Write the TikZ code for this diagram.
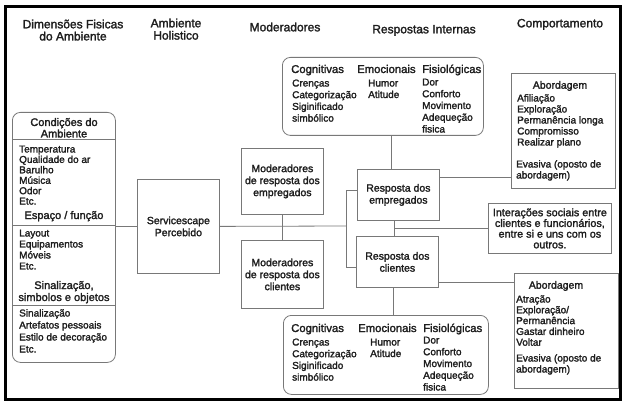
\documentclass[tikz,border=0pt]{standalone}
\usepackage{fontspec}
\setmainfont{Liberation Sans}[FakeBold=2]
\definecolor{ln}{RGB}{120,120,120}
\definecolor{tx}{RGB}{30,30,30}
\newcommand\TL[3]{{\fontsize{#1}{#2}\selectfont\begin{tabular}[t]{@{}l@{}}#3\end{tabular}}}
\newcommand\TC[3]{{\fontsize{#1}{#2}\selectfont\begin{tabular}[t]{@{}c@{}}#3\end{tabular}}}
\tikzset{
  bx/.style={draw=ln, line width=0.8pt, anchor=north west, inner sep=0pt, text=tx, align=center},
  rbx/.style={bx, rounded corners=8pt},
  btxt/.style={font=\fontsize{10.5}{12}\selectfont},
  tl/.style={anchor=base west, inner sep=0pt, text=tx},
  tc/.style={anchor=base, inner sep=0pt, text=tx},
  cn/.style={draw=ln, line width=0.8pt},
}
\begin{document}
\begin{tikzpicture}[x=1pt,y=-1pt]
\useasboundingbox (0,0) rectangle (627,409);
\draw[line width=3pt] (5.5,6.5) rectangle (620.5,399.5);

% headers
\node[tc] (h1) at (73,28.3) {\TC{12}{11.5}{Dimensões Fisicas\\do Ambiente}};
\node[tc] (h2) at (176,27.3) {\TC{12}{12}{Ambiente\\Holistico}};
\node[tc] (h3) at (285,31.3) {\TC{12}{13}{Moderadores}};
\node[tc] (h4) at (424,33.3) {\TC{12}{13}{Respostas Internas}};
\node[tc] (h5) at (560,27.3) {\TC{12}{13}{Comportamento}};

% boxes
\node[rbx, minimum width=103, minimum height=250] (env) at (12,112) {};
\node[bx, btxt, minimum width=82, minimum height=94] (svc) at (137,179) {Servicescape\\Percebido};
\node[bx, btxt, minimum width=82, minimum height=66] (memp) at (241,148) {Moderadores\\de resposta dos\\empregados};
\node[bx, btxt, minimum width=82, minimum height=68] (mcli) at (241,240) {Moderadores\\de resposta dos\\clientes};
\node[bx, btxt, minimum width=82, minimum height=51] (remp) at (357,169) {Resposta dos\\empregados};
\node[bx, btxt, minimum width=82, minimum height=51] (rcli) at (356,236) {Resposta dos\\clientes};
\node[rbx, minimum width=201, minimum height=78] (ui) at (282,57) {};
\node[rbx, minimum width=205, minimum height=79] (li) at (283,315) {};
\node[bx, minimum width=104, minimum height=115] (ua) at (511,73) {};
\node[bx, font=\fontsize{10.8}{10.7}\selectfont, minimum width=123, minimum height=50] (inter) at (488,203) {Interações sociais entre\\clientes e funcionários,\\entre si e uns com os\\outros.};
\node[bx, minimum width=104, minimum height=115] (la) at (514,273) {};

% left box content
\coordinate (s1) at (0,139);
\coordinate (s2) at (0,225);
\coordinate (s3) at (0,305);
\draw[cn] (env.west |- s1) -- (env.east |- s1);
\draw[cn] (env.west |- s2) -- (env.east |- s2);
\draw[cn] (env.west |- s3) -- (env.east |- s3);
\node[tc] (e1) at (64,126) {\TC{11}{11.5}{Condições do\\Ambiente}};
\node[tl] (e2) at (19,152.5) {\TL{10}{10.4}{Temperatura\\Qualidade do ar\\Barulho\\Música\\Odor\\Etc.}};
\node[tc] (e3) at (64,219) {\TC{11}{12}{Espaço / função}};
\node[tl] (e4) at (19,236.5) {\TL{10}{11}{Layout\\Equipamentos\\Móveis\\Etc.}};
\node[tc] (e5) at (64,289) {\TC{11}{12}{Sinalização,\\simbolos e objetos}};
\node[tl] (e6) at (19,316.5) {\TL{10}{12}{Sinalização\\Artefatos pessoais\\Estilo de decoração\\Etc.}};

% upper internal
\node[tl] (u1) at (291,73) {\TL{11.3}{12}{Cognitivas}};
\node[tl] (u2) at (292,86.5) {\TL{10}{11.7}{Crenças\\Categorização\\Siginificado\\simbólico}};
\node[tl] (u3) at (357,73) {\TL{11.3}{12}{Emocionais}};
\node[tl] (u4) at (368,86.5) {\TL{10}{11.5}{Humor\\Atitude}};
\node[tl] (u5) at (422,73) {\TL{11.3}{12}{Fisiológicas}};
\node[tl] (u6) at (422,85.5) {\TL{10}{11.75}{Dor\\Conforto\\Movimento\\Adequeção\\fisica}};

% lower internal
\node[tl] (l1) at (291,332) {\TL{11.3}{12}{Cognitivas}};
\node[tl] (l2) at (292,345.5) {\TL{10}{11.7}{Crenças\\Categorização\\Siginificado\\simbólico}};
\node[tl] (l3) at (358,332) {\TL{11.3}{12}{Emocionais}};
\node[tl] (l4) at (370,345.5) {\TL{10}{11.5}{Humor\\Atitude}};
\node[tl] (l5) at (423,332) {\TL{11.3}{12}{Fisiológicas}};
\node[tl] (l6) at (423,343.5) {\TL{10}{11.75}{Dor\\Conforto\\Movimento\\Adequeção\\fisica}};

% upper abordagem
\node[tc] (a1) at (560,88.7) {\TC{10.5}{11}{Abordagem}};
\node[tl] (a2) at (517,101.5) {\TL{10}{11}{Afiliação\\Exploração\\Permanência longa\\Compromisso\\Realizar plano}};
\node[tl] (a3) at (516,167.5) {\TL{10}{11}{Evasiva (oposto de\\abordagem)}};

% lower abordagem
\node[tc] (b1) at (556,288.7) {\TC{10.5}{11}{Abordagem}};
\node[tl] (b2) at (516,302.5) {\TL{10}{10.8}{Atração\\Exploração/\\Permanência\\Gastar dinheiro\\Voltar}};
\node[tl] (b3) at (516,361.5) {\TL{10}{11}{Evasiva (oposto de\\abordagem)}};

% connectors
\coordinate (bk) at (346,226);
\coordinate (bt) at (346,190);
\coordinate (bb) at (346,267);
\coordinate (xa) at (391,0);
\coordinate (xb) at (394,0);
\coordinate (xc) at (393,0);
\coordinate (c1) at (0,177);
\coordinate (c2) at (0,282);
\draw[cn] (env.east |- svc.west) -- (svc.west);
\draw[cn] (svc.east) -- (bk);
\draw[cn] (memp.south) -- (mcli.north);
\draw[cn] (bt -| remp.west) -- (bt) -- (bb) -- (bb -| rcli.west);
\draw[cn] (ui.south -| xa) -- (remp.north -| xa);
\draw[cn] (remp.south -| xb) -- (rcli.north -| xb);
\draw[cn] (inter.west -| xb) -- (inter.west);
\draw[cn] (remp.east |- c1) -- (ua.west |- c1);
\draw[cn] (rcli.east |- c2) -- (la.west |- c2);
\draw[cn] (rcli.south -| xc) -- (li.north -| xc);
\end{tikzpicture}
\end{document}
